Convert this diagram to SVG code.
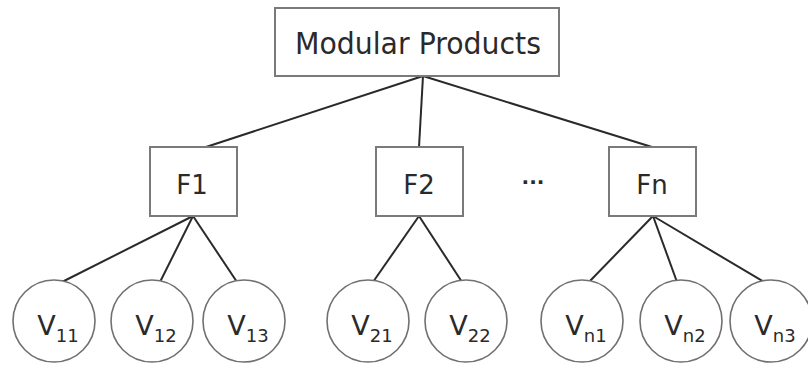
<svg xmlns="http://www.w3.org/2000/svg" width="808" height="365" viewBox="0 0 808 365">
<style>
.box{fill:#fff;stroke:#7a7a7a;stroke-width:2}
.node{fill:#fff;stroke:#707070;stroke-width:1.6}
.edge{stroke:#2a2a2a;stroke-width:2;fill:none}
text{font-family:"DejaVu Sans","Liberation Sans",sans-serif;fill:#2a2a2a}
.t{font-size:26px;text-anchor:middle}
.v{font-size:27px;text-anchor:middle}
.s{font-size:18px}
</style>
<rect width="808" height="365" fill="#fff"/>
<g id="connectors">
<line class="edge" x1="423" y1="76" x2="206" y2="147"/>
<line class="edge" x1="423" y1="76" x2="419" y2="147"/>
<line class="edge" x1="423" y1="76" x2="652" y2="147"/>
<line class="edge" x1="193" y1="216" x2="62" y2="282"/>
<line class="edge" x1="193" y1="216" x2="160" y2="282"/>
<line class="edge" x1="193" y1="216" x2="237" y2="282"/>
<line class="edge" x1="419" y1="216" x2="373" y2="282"/>
<line class="edge" x1="419" y1="216" x2="462" y2="282"/>
<line class="edge" x1="653" y1="216" x2="589" y2="282"/>
<line class="edge" x1="653" y1="216" x2="677" y2="282"/>
<line class="edge" x1="653" y1="216" x2="764" y2="282"/>
</g>
<g id="root"><rect class="box" x="275" y="8" width="284" height="68"/><text x="418" y="54" font-size="31" text-anchor="middle" textLength="246" lengthAdjust="spacingAndGlyphs">Modular Products</text></g>
<g id="F1"><rect class="box" x="150" y="147" width="87" height="69"/><text class="t" x="192" y="194">F1</text></g>
<g id="F2"><rect class="box" x="376" y="147" width="87" height="69"/><text class="t" x="419" y="194">F2</text></g>
<g id="dots"><text x="533" y="184" font-size="20" font-weight="bold" text-anchor="middle">...</text></g>
<g id="Fn"><rect class="box" x="609" y="147" width="87" height="69"/><text class="t" x="652" y="194">Fn</text></g>
<g id="V11"><circle class="node" cx="54" cy="321" r="41"/><text class="v" x="58" y="335">V<tspan class="s" dy="7">11</tspan></text></g>
<g id="V12"><circle class="node" cx="152" cy="321" r="41"/><text class="v" x="156" y="335">V<tspan class="s" dy="7">12</tspan></text></g>
<g id="V13"><circle class="node" cx="244" cy="321" r="41"/><text class="v" x="248" y="335">V<tspan class="s" dy="7">13</tspan></text></g>
<g id="V21"><circle class="node" cx="368" cy="321" r="41"/><text class="v" x="372" y="335">V<tspan class="s" dy="7">21</tspan></text></g>
<g id="V22"><circle class="node" cx="466" cy="321" r="41"/><text class="v" x="470" y="335">V<tspan class="s" dy="7">22</tspan></text></g>
<g id="Vn1"><circle class="node" cx="582" cy="321" r="41"/><text class="v" x="586" y="335">V<tspan class="s" dy="7">n1</tspan></text></g>
<g id="Vn2"><circle class="node" cx="681" cy="321" r="41"/><text class="v" x="685" y="335">V<tspan class="s" dy="7">n2</tspan></text></g>
<g id="Vn3"><circle class="node" cx="771" cy="321" r="41"/><text class="v" x="775" y="335">V<tspan class="s" dy="7">n3</tspan></text></g>
</svg>
